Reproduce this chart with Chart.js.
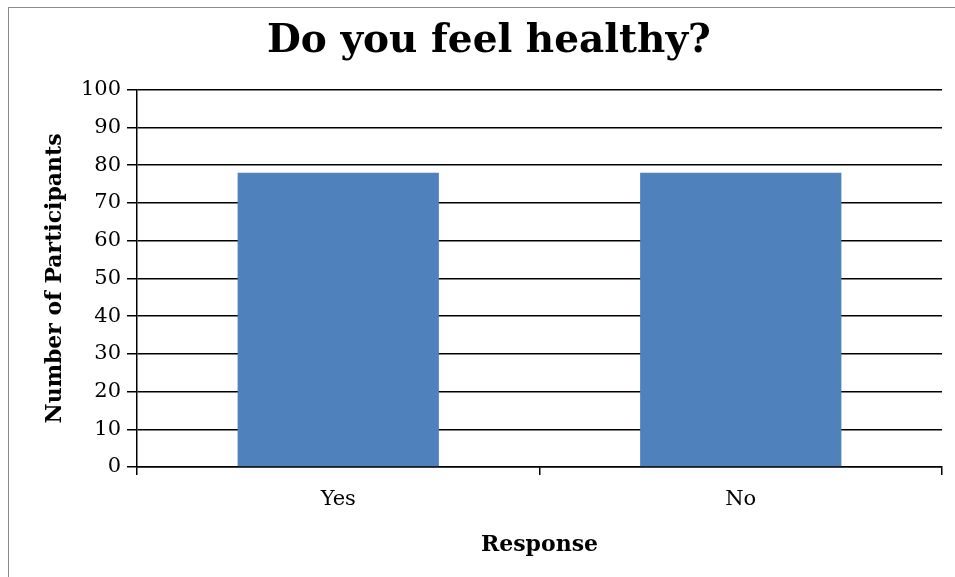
<!DOCTYPE html>
<html>
<head>
<meta charset="utf-8">
<script src="https://cdn.jsdelivr.net/npm/chart.js@4"></script>
<style>
  html, body { margin: 0; padding: 0; background: #fff; }
  #wrap { position: relative; width: 955px; height: 577px; }
</style>
</head>
<body>
<div id="wrap"><canvas id="healthChart" width="955" height="577"></canvas></div>
<script>
const categories = ['Yes', 'No'];
const participants = [78, 78];
const yTicks = { min: 0, max: 100, step: 10 };

const serif = '"DejaVu Serif", serif';

// outer frame of the picture
const framePlugin = {
  id: 'frame',
  beforeDraw(chart) {
    const ctx = chart.ctx;
    ctx.save();
    ctx.fillStyle = '#fff';
    ctx.fillRect(0, 0, chart.width, chart.height);
    ctx.strokeStyle = '#8c8c8c';
    ctx.lineWidth = 1;
    ctx.strokeRect(8.5, 7.5, chart.width + 10, chart.height + 10);
    ctx.restore();
  },
};

new Chart(document.getElementById('healthChart').getContext('2d'), {
  type: 'bar',
  data: {
    labels: categories,
    datasets: [
      {
        label: 'Participants',
        data: participants,
        backgroundColor: '#4F81BD',
        barPercentage: 0.5,
        categoryPercentage: 1,
      },
    ],
  },
  options: {
    responsive: false,
    animation: false,
    layout: { padding: { left: 36, right: 13, top: 0, bottom: 0 } },
    plugins: {
      legend: { display: false },
      tooltip: { enabled: false },
      title: {
        display: true,
        text: 'Do you feel healthy?',
        color: '#000',
        font: { family: serif, size: 39, weight: 'bold', lineHeight: 1.2 },
        padding: { top: 18, bottom: 25 },
      },
    },
    scales: {
      x: {
        offset: true,
        grid: {
          offset: true,
          drawOnChartArea: false,
          drawTicks: true,
          tickLength: 8,
          color: '#000',
          lineWidth: 1.5,
        },
        border: { color: '#000', width: 1.5 },
        ticks: {
          color: '#000',
          padding: 12,
          font: { family: serif, size: 21 },
        },
        title: {
          display: true,
          text: 'Response',
          color: '#000',
          font: { family: serif, size: 22, weight: 'bold', lineHeight: 1.2 },
          padding: { top: 0, bottom: 19 },
        },
        afterFit(scale) {
          scale.height = 110;
        },
      },
      y: {
        min: yTicks.min,
        max: yTicks.max,
        grid: {
          color: '#000',
          lineWidth: 1.5,
          tickLength: 10,
        },
        border: { color: '#000', width: 1.5 },
        ticks: {
          stepSize: yTicks.step,
          color: '#000',
          padding: 6,
          font: { family: serif, size: 21 },
        },
        title: {
          display: true,
          text: 'Number of Participants',
          color: '#000',
          font: { family: serif, size: 22, weight: 'bold', lineHeight: 1.2 },
          padding: { top: 6, bottom: 0 },
        },
        afterFit(scale) {
          scale.width = 101;
        },
      },
    },
  },
  plugins: [framePlugin],
});
</script>
</body>
</html>
